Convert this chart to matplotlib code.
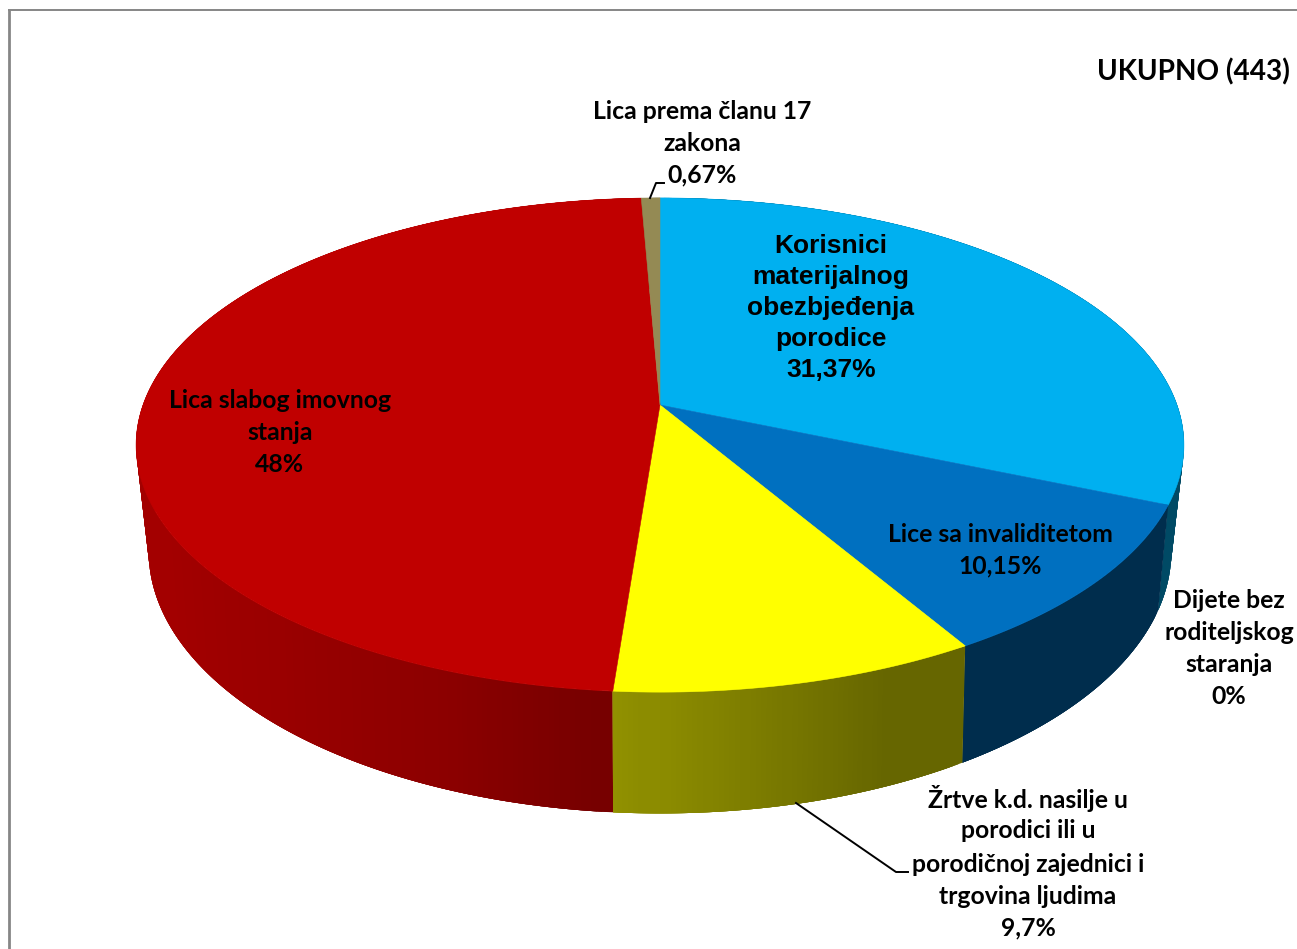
import numpy as np
import matplotlib
matplotlib.use("Agg")
import matplotlib.pyplot as plt
from matplotlib.collections import PolyCollection

# ---- data ----
categories = ["Korisnici materijalnog obezbjeđenja porodice", "Lice sa invaliditetom",
              "Dijete bez roditeljskog staranja",
              "Žrtve k.d. nasilje u porodici ili u porodičnoj zajednici i trgovina ljudima",
              "Lica slabog imovnog stanja", "Lica prema članu 17 zakona"]
values = [31.37, 10.15, 0.0, 9.70, 48.11, 0.67]
percent_labels = ["31,37%", "10,15%", "0%", "9,7%", "48%", "0,67%"]
title = "UKUPNO (443)"

# ---- style ----
top_colors = ["#00B0F0", "#0070C0", "#00B0F0", "#FFFF00", "#C00000", "#948A54"]
side_base = [(0x00, 0xB0, 0xF0), (0x00, 0x70, 0xC0), (0, 0, 0), (0xFF, 0xFF, 0x00), (0xC0, 0, 0), (0x94, 0x8A, 0x54)]
shade_angle = [149.5, 158, 184.3, 184.4, 199, 218, 240, 300]
shade_by_slice = {
    0: [.42] * 8,
    1: [.40] * 8,
    2: [.4] * 8,
    3: [.40, .40, .58, .58, .58, .58, .58, .58],
    4: [.62, .62, .62, .62, .73, .80, .85, .85],
    5: [.6] * 8,
}

W, H = 1297, 949
fig = plt.figure(figsize=(W / 100, H / 100), dpi=100)
ax = fig.add_axes([0, 0, 1, 1])
ax.set_xlim(0, W)
ax.set_ylim(H, 0)
ax.axis("off")

CX = 660


def project(t_deg, R, b, a, k):
    """Perspective projection of a disc; t clockwise from the back."""
    t = np.radians(t_deg)
    u, v = np.sin(t), -np.cos(t)
    w = 1 + k * v
    return CX + R * u / w, (b + a * v) / w


TOP = dict(R=517, b=405, a=175, k=-0.162)
BOT = dict(R=503, b=504, a=163, k=-0.18)

edges = np.concatenate([[0], np.cumsum(values)]) * 3.6

# sides, back to front; each strip overlaps its neighbour so no seams show
strips = []
for i, v in enumerate(values):
    if v <= 0:
        continue
    ts = np.arange(edges[i], edges[i + 1], 0.5)
    shades = np.interp(ts, shade_angle, shade_by_slice[i])
    base = np.array(side_base[i]) / 255
    for t0, s in zip(ts, shades):
        t1 = min(t0 + 2.0, edges[i + 1])
        tt = np.linspace(t0, t1, 5)
        xa, ya = project(tt, **TOP)
        xb, yb = project(tt[::-1], **BOT)
        depth = -np.cos(np.radians(t0))
        strips.append((depth, np.c_[np.r_[xa, xb], np.r_[ya, yb]], tuple(base * s)))
strips.sort(key=lambda r: r[0])
ax.add_collection(PolyCollection([s[1] for s in strips], facecolors=[s[2] for s in strips],
                                 edgecolors="none", linewidths=0, zorder=2))

# top faces
for i, v in enumerate(values):
    if v <= 0:
        continue
    ts = np.linspace(edges[i], edges[i + 1], max(int(v * 10), 8))
    xs, ys = project(ts, **TOP)
    ax.fill(np.r_[CX, xs], np.r_[TOP["b"], ys], color=top_colors[i], lw=0.4, zorder=3)

# frame
frame = "#868686"
ax.plot([9, 9], [H, 10], color=frame, lw=2.0, solid_capstyle="butt", zorder=1)
ax.plot([8, W], [10, 10], color=frame, lw=1.4, solid_capstyle="butt", zorder=1)

# leader lines
ax.plot([796, 896, 908], [803, 872, 872], color="black", lw=1.4, zorder=4)
ax.plot([650, 656, 664], [198, 183, 183], color="black", lw=1.4, zorder=4)

# labels
F = dict(family="Lato", fontweight="bold", color="black", ha="center", va="center", fontsize=17.8, zorder=5)


def put(cx, ys, lines, **kw):
    opts = {**F, **kw}
    for y, s in zip(ys, lines):
        ax.text(cx, y + 1, s, **opts)


put(831, [245, 276, 307, 338, 369],
    ["Korisnici", "materijalnog", "obezbjeđenja", "porodice", percent_labels[0]],
    family="Liberation Sans", fontsize=19)
put(1000, [533, 565], ["Lice sa invaliditetom", percent_labels[1]])
put(1229, [599, 631, 663, 695], ["Dijete bez", "roditeljskog", "staranja", percent_labels[2]])
put(1028, [798, 830, 863, 895, 927],
    ["Žrtve k.d. nasilje u", "porodici ili u", "porodičnoj zajednici i", "trgovina ljudima", percent_labels[3]])
put(280, [399, 431, 463], ["Lica slabog imovnog", "stanja", percent_labels[4]])
put(702, [110, 142, 174], ["Lica prema članu 17", "zakona", percent_labels[5]])
ax.text(1290, 72, title, family="Lato", fontweight="bold", fontsize=20.2, ha="right", va="center", color="black", zorder=5)

fig.savefig("out.png", dpi=100)
